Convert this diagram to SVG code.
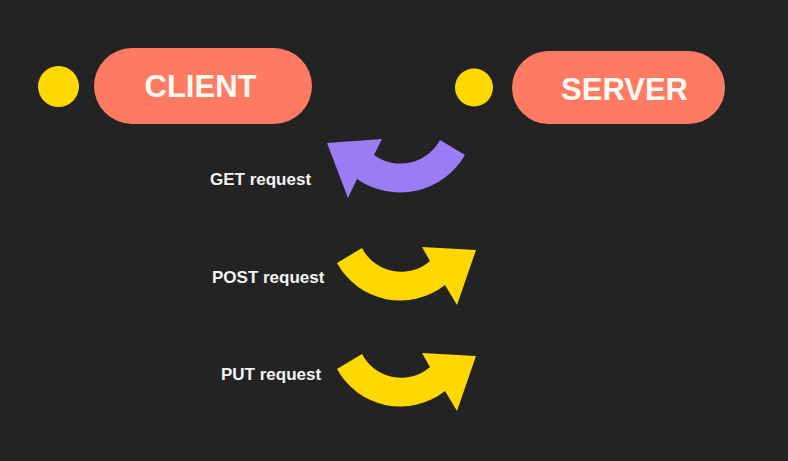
<svg xmlns="http://www.w3.org/2000/svg" width="788" height="461" viewBox="0 0 788 461">
<style>
.pill{fill:#FF7A62}
.dot{fill:#FFD800}
.title{font-family:"Liberation Sans",Arial,sans-serif;font-weight:bold;font-size:31px;fill:#FFFAF2;text-anchor:middle}
.lbl{font-family:"Liberation Sans",Arial,sans-serif;font-weight:bold;font-size:17px;fill:#F4F4F4}
.get{fill:#9C7CF6}
.push{fill:#FFD800}
</style>
<rect width="788" height="461" fill="#232323"/>
<g id="client-dot"><circle class="dot" cx="58.5" cy="86.5" r="20.5"/></g>
<g id="client">
<rect class="pill" x="94" y="48" width="218" height="76" rx="38"/>
<text class="title" x="200.5" y="96.5">CLIENT</text>
</g>
<g id="server-dot"><circle class="dot" cx="474" cy="87.5" r="19"/></g>
<g id="server">
<rect class="pill" x="512" y="51" width="213" height="73" rx="36.5"/>
<text class="title" x="624.5" y="99.5">SERVER</text>
</g>
<g id="connectors">
<path class="get" d="M465,155 A75,75 0 0 1 357,179 L348,198 L327,143 L382,139 L374,155 A45,45 0 0 0 440,140 Z"/>
<path class="push" d="M362,248 L337,263 A72,72 0 0 0 445,285 L457,305 L476,250 L422,247 L430,261 A44,44 0 0 1 362,248 Z"/>
<path class="push" transform="translate(0,106)" d="M362,248 L337,263 A72,72 0 0 0 445,285 L457,305 L476,250 L422,247 L430,261 A44,44 0 0 1 362,248 Z"/>
</g>
<g id="labels">
<text class="lbl" x="210" y="185">GET request</text>
<text class="lbl" x="212" y="283">POST request</text>
<text class="lbl" x="221" y="380">PUT request</text>
</g>
</svg>
